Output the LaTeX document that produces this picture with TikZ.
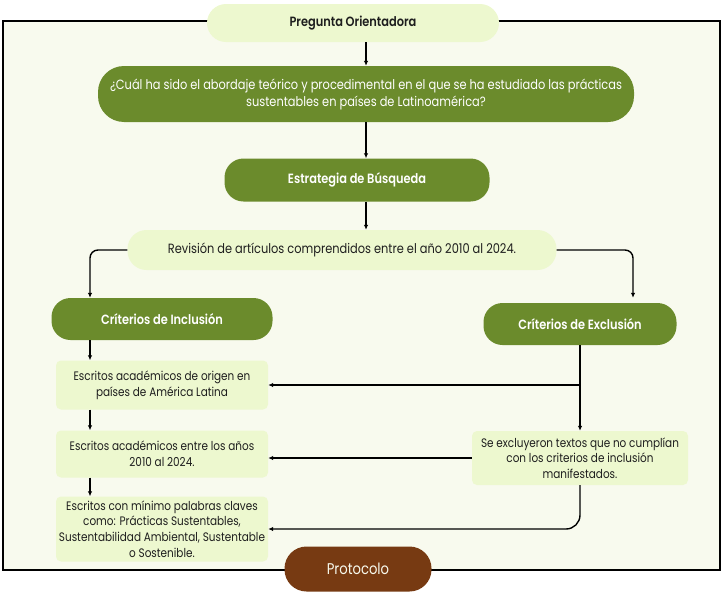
\documentclass[tikz,border=0pt]{standalone}
\usepackage{fontspec}
\setmainfont{Poppins}[FakeStretch=0.85, BoldFont={Poppins SemiBold}]
\usetikzlibrary{arrows.meta,positioning}
\definecolor{oliveGreen}{HTML}{6B8B2C}
\definecolor{paleGreen}{HTML}{EDF8CF}
\definecolor{creamBg}{HTML}{F8FAEE}
\definecolor{rustBrown}{HTML}{773A12}
\definecolor{inkDark}{HTML}{1E1E1E}

\tikzset{
  pill/.style={draw=none, rounded corners=19, align=center, inner sep=0pt,
    font=\fontsize{13.4}{17}\selectfont},
  darkpill/.style={pill, fill=oliveGreen, text=white},
  lightpill/.style={pill, fill=paleGreen, text=inkDark},
  titlefont/.style={font=\fontsize{13.4}{16.5}\selectfont\bfseries},
  notebox/.style={draw=none, fill=paleGreen, rounded corners=5, align=center,
    inner sep=0pt, text=inkDark, font=\fontsize{12.3}{15.6}\selectfont},
  flow/.style={-{Latex[length=5pt,width=4.5pt]}, line width=1.4, black}
}

\begin{document}
\begin{tikzpicture}[x=1pt,y=-1pt]
  \useasboundingbox (0,0) rectangle (727,597);
  \draw[line width=1.5, fill=creamBg] (3,21) rectangle (720,570);

  \node[lightpill, minimum width=292, minimum height=38, titlefont] (pregunta) at (353,23) {Pregunta Orientadora};
  \node[darkpill, minimum width=536, minimum height=56, rounded corners=26] (question) at (366,94) {¿Cuál ha sido el abordaje teórico y procedimental en el que se ha estudiado las prácticas\\sustentables en países de Latinoamérica?};
  \node[darkpill, minimum width=265, minimum height=43, titlefont] (estrategia) at (357,180) {Estrategia de Búsqueda};
  \node[lightpill, minimum width=429, minimum height=40] (revision) at (342,250) {Revisión de artículos comprendidos entre el año 2010 al 2024.};
  \node[darkpill, minimum width=221, minimum height=42, titlefont] (inclusion) at (162,319) {Críterios de Inclusión};
  \node[darkpill, minimum width=193, minimum height=42, titlefont] (exclusion) at (580,324) {Críterios de Exclusión};

  \node[notebox, minimum width=212, minimum height=49] (esc1) at (162,385) {Escritos académicos de origen en\\países de América Latina};
  \node[notebox, minimum width=212, minimum height=47] (esc2) at (162,454) {Escritos académicos entre los años\\2010 al 2024.};
  \node[notebox, minimum width=212, minimum height=65] (esc3) at (162,529) {Escritos con mínimo palabras claves\\como: Prácticas Sustentables,\\Sustentabilidad Ambiental, Sustentable\\o Sostenible.};
  \node[notebox, minimum width=216, minimum height=54] (excl) at (580,458) {Se excluyeron textos que no cumplían\\con los criterios de inclusión\\manifestados.};

  \node[pill, fill=rustBrown, text=creamBg, minimum width=147, minimum height=45, rounded corners=22, font=\fontsize{15.5}{18}\selectfont] (protocolo) at (358,569) {Protocolo};

  % main column
  \draw[flow] (pregunta.south -| question.north) -- (question.north);
  \draw[flow] (question.south) -- (estrategia.north -| question.south);
  \draw[flow] (estrategia.south -| question.south) -- (revision.north -| question.south);

  % split
  \draw[flow, rounded corners=8] (revision.west) -| ([xshift=-72]inclusion.north);
  \draw[flow, rounded corners=8] (revision.east) -| ([xshift=53,yshift=5]exclusion.north);

  % inclusion side
  \draw[flow] ([xshift=-72]inclusion.south) -- ([xshift=-72]esc1.north);
  \draw[flow] ([xshift=-72]esc1.south) -- ([xshift=-72]esc2.north);
  \draw[flow] ([xshift=-72]esc2.south) -- ([xshift=-72]esc3.north);

  % exclusion side
  \draw[flow] (exclusion.south) -- (excl.north);
  \draw[flow] (exclusion.south |- esc1.east) -- (esc1.east);
  \draw[flow] (excl.west) -- (excl.west -| esc2.east);
  \draw[flow, rounded corners=14] (excl.south) |- (esc3.east);
\end{tikzpicture}
\end{document}
